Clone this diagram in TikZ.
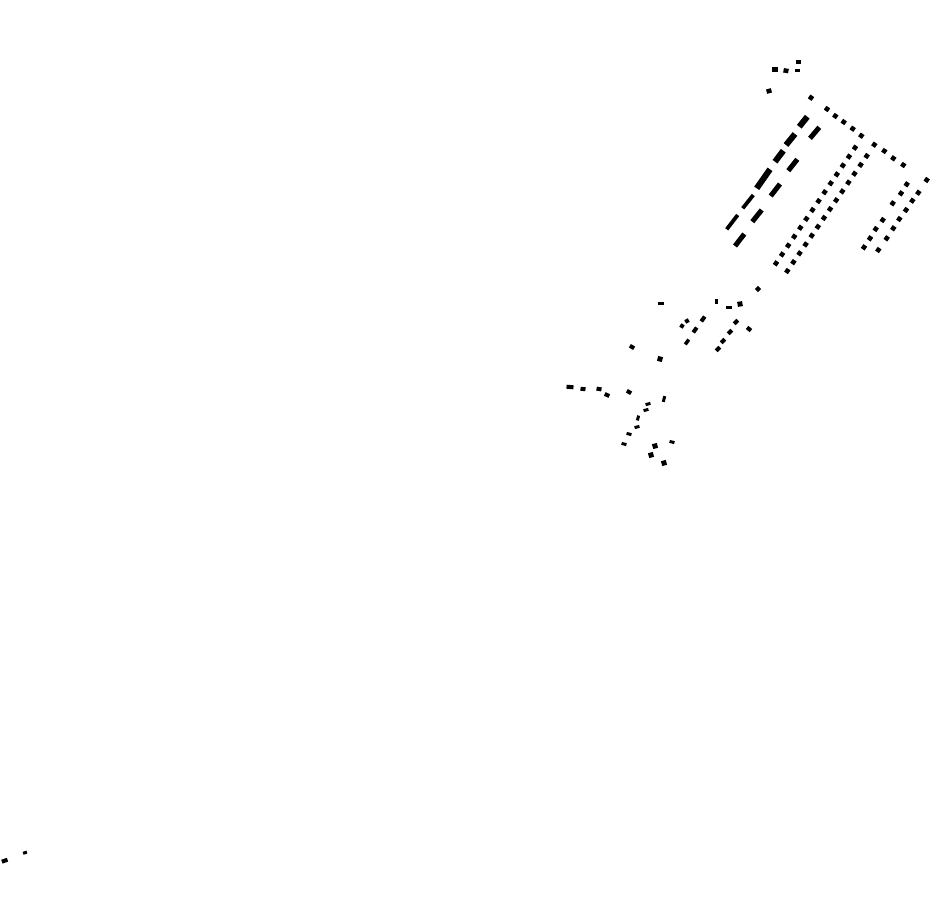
\documentclass[tikz,border=0pt]{standalone}
\usetikzlibrary{calc}
\newcommand{\mk}[5]{\fill[rotate around={#5:(#1,#2)}] ({#1-#3/2},{#2-#4/2}) rectangle ({#1+#3/2},{#2+#4/2});}
\begin{document}
\begin{tikzpicture}[x=1pt,y=-1pt,
  dashthick/.style={line width=6pt},
  dashmid/.style={line width=5pt},
  dashthin/.style={line width=3.8pt}]
\useasboundingbox[fill=white] (0,0) rectangle (930,924);
% top squares
\mk{775}{69.3}{6}{5}{0}
\mk{786}{70.7}{5}{4.5}{-10}
\mk{797.7}{70}{4.5}{3}{0}
\mk{798.3}{61.7}{5}{4}{0}
\mk{769}{91}{5}{4.5}{15}
% dotted line A
\foreach \p in {(811,97.7),(827,109),(835.3,116),(843.7,122),(852.7,128.7),(861.3,135.7),(874.3,144.7),(884.3,151),(893.3,158.3),(903.3,165)}
  {\path \p coordinate (q); \fill[rotate around={-35:(q)}] ($(q)+(-2.3,-2.3)$) rectangle ($(q)+(2.3,2.3)$);}
% dotted pair B
\coordinate (b1s) at (855,147.7); \coordinate (b1e) at (776,263.3);
\coordinate (b2s) at (866.7,156); \coordinate (b2e) at (787.3,271);
\foreach \i in {0,...,13}{
  \fill[rotate around={55:($(b1s)!\i/13!(b1e)$)}] ($($(b1s)!\i/13!(b1e)$)+(-2.3,-2.3)$) rectangle ($($(b1s)!\i/13!(b1e)$)+(2.3,2.3)$);
  \fill[rotate around={55:($(b2s)!\i/13!(b2e)$)}] ($($(b2s)!\i/13!(b2e)$)+(-2.3,-2.3)$) rectangle ($($(b2s)!\i/13!(b2e)$)+(2.3,2.3)$);
}
% dotted pair C
\foreach \p in {(906.7,184.3),(901,193.3),(892.7,203.3),(882.7,220),(875.7,229),(870,238.3),(864,247.3),
                (926.7,180),(918.3,192.7),(912.3,200.7),(906,210),(899.3,219),(893.3,228.3),(886.7,238.3),(878.3,250)}
  {\path \p coordinate (q); \fill[rotate around={55:(q)}] ($(q)+(-2.3,-2.3)$) rectangle ($(q)+(2.3,2.3)$);}
% dashed line D1
\draw[dashthick] (807.3,116.7) -- (799.3,126.7);
\draw[dashthick] (795,134) -- (786,145);
\draw[dashthick] (783.3,150.7) -- (775,161.7);
\draw[dashthick] (770,169.3) -- (756.7,188.3);
\draw[dashthin] (753.3,195) -- (742.7,208.3);
\draw[dashthin] (737.7,215) -- (726.7,229.3);
% dashed line D2
\draw[dashmid] (819.3,127.3) -- (810,138.3);
\draw[dashmid] (797.3,159.3) -- (788.3,170.7);
\draw[dashmid] (780,184) -- (770.7,196);
\draw[dashmid] (761.7,210) -- (752.3,221.7);
\draw[dashmid] (744.3,234) -- (735,246);
% middle scatter
\mk{758}{289}{4.5}{4.5}{45}
\mk{716}{301}{3}{5}{0}
\mk{729}{307}{6}{3}{0}
\mk{740}{304}{5}{5}{10}
\mk{736}{322}{5}{4}{45}
\mk{749}{329}{5}{4}{-40}
\mk{730}{332}{5}{4}{45}
\mk{723}{341}{5}{4}{45}
\mk{718}{349}{5}{4}{45}
\mk{703}{319}{6}{4}{55}
\mk{695}{330}{6}{4}{55}
\mk{687}{342}{6}{3.5}{55}
\mk{687}{321}{4}{4}{30}
\mk{682}{326}{4}{4}{-30}
\mk{661}{303}{6}{3}{0}
\mk{632}{347}{5}{4}{-30}
\mk{660}{359}{5}{5}{-15}
% lower scatter
\mk{570}{387}{7}{4}{-5}
\mk{583}{389}{5}{4}{-5}
\mk{599}{389}{5}{4}{-10}
\mk{607}{395}{5}{4}{-25}
\mk{629}{392}{5}{4}{-30}
\mk{664}{399}{3}{6}{-15}
\mk{648}{404}{5}{3}{15}
\mk{646}{410}{5}{3}{15}
\mk{638}{418}{3}{5}{-15}
\mk{637}{427}{5}{3}{15}
\mk{629}{434}{5}{3}{-15}
\mk{624}{444}{5}{3}{-15}
\mk{655}{446}{5}{5}{15}
\mk{672}{442}{5}{3}{-15}
\mk{651}{455}{5}{5}{15}
\mk{664}{463}{5}{5}{15}
% bottom left
\mk{4.7}{860.7}{6}{4}{20}
\mk{25}{852.7}{4}{3}{20}
\end{tikzpicture}
\end{document}
